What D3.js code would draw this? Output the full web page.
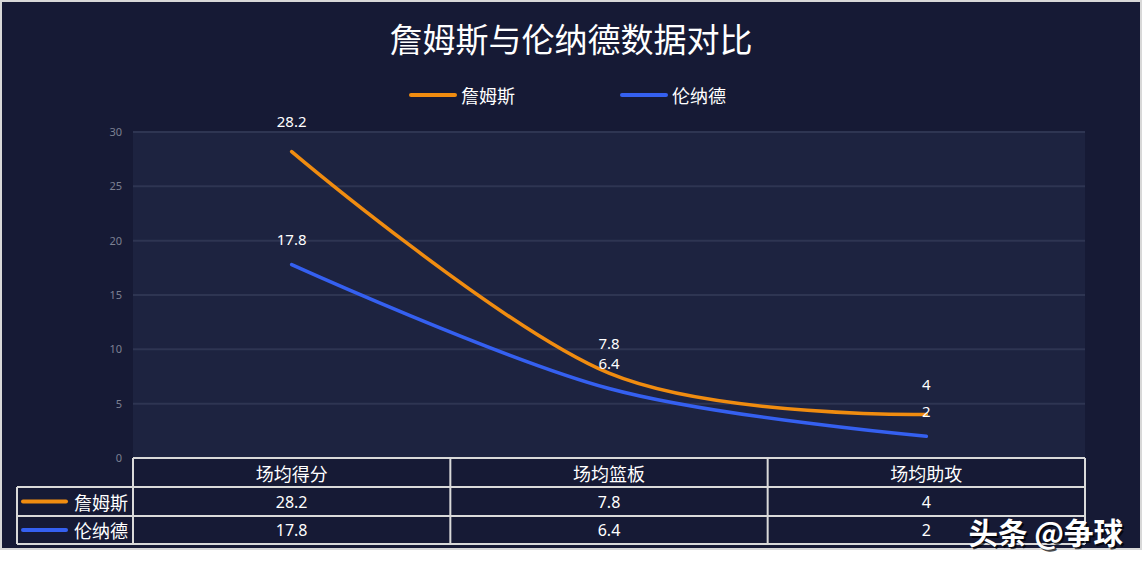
<!DOCTYPE html>
<html><head><meta charset="utf-8">
<script src="https://cdn.jsdelivr.net/npm/d3@7"></script>
<style>
html,body{margin:0;padding:0;background:#ffffff;}
svg{display:block;}
text{font-family:"Noto Sans CJK SC","Noto Sans",sans-serif;}
</style></head>
<body>
<svg id="chart" width="1142" height="563"></svg>
<script>
const title = "詹姆斯与伦纳德数据对比";
const categories = ["场均得分", "场均篮板", "场均助攻"];
const seriesNames = ["詹姆斯", "伦纳德"];
const jamesValues = [28.2, 7.8, 4];
const leonardValues = [17.8, 6.4, 2];
const seriesColors = ["#f08c10", "#3560f0"];
const yTicks = [0, 5, 10, 15, 20, 25, 30];
const watermark = "头条 @争球";

const series = [
  {name: seriesNames[0], values: jamesValues, color: seriesColors[0], labelOff: 30.5},
  {name: seriesNames[1], values: leonardValues, color: seriesColors[1], labelOff: 25.5}
];

const svg = d3.select("#chart");
// frame
svg.append("rect").attr("x",0).attr("y",0).attr("width",1142).attr("height",550).attr("fill","#d8d8d8");
svg.append("rect").attr("x",2).attr("y",2).attr("width",1138).attr("height",546).attr("fill","#161a35");

const plotL = 133, plotR = 1085, plotT = 132, plotB = 458;
const x = d3.scaleBand().domain(categories).range([plotL, plotR]);
const y = d3.scaleLinear().domain([0, 30]).range([plotB, plotT]);

svg.append("rect").attr("x",plotL).attr("y",plotT).attr("width",plotR-plotL).attr("height",plotB-plotT).attr("fill","#1d2340");

// grid
svg.append("g").selectAll("line").data(yTicks.filter(d=>d>0)).join("line")
  .attr("x1",plotL).attr("x2",plotR).attr("y1",d=>y(d)).attr("y2",d=>y(d))
  .attr("stroke","#2e3552").attr("stroke-width",2);

// y axis
const yAxis = d3.axisLeft(y).tickValues(yTicks).tickSize(0).tickPadding(11);
const ga = svg.append("g").attr("transform",`translate(${plotL},0)`).call(yAxis);
ga.select(".domain").remove();
ga.selectAll("text").attr("fill","#7c8092").style("font-size","11px").style("font-family","'Noto Sans',sans-serif");

// title
svg.append("text").attr("x",571).attr("y",38).attr("text-anchor","middle").attr("dominant-baseline","central")
  .attr("fill","#ffffff").style("font-size","33px").text(title);

// legend
const legX = [411, 622];
series.forEach((s,i)=>{
  svg.append("line").attr("x1",legX[i]).attr("x2",legX[i]+44).attr("y1",95).attr("y2",95)
    .attr("stroke",s.color).attr("stroke-width",4).attr("stroke-linecap","round");
  svg.append("text").attr("x",legX[i]+50).attr("y",95).attr("dominant-baseline","central")
    .attr("fill","#ffffff").style("font-size","18px").text(s.name);
});

// lines
const cx = c => x(c) + x.bandwidth()/2;
const line = d3.line().x(d=>cx(d.c)).y(d=>y(d.v)).curve(d3.curveCardinal.tension(0));
series.forEach(s=>{
  const pts = categories.map((c,i)=>({c, v:s.values[i]}));
  svg.append("path").attr("d",line(pts)).attr("fill","none").attr("stroke",s.color)
    .attr("stroke-width",3.5).attr("stroke-linecap","round");
});
// labels
series.forEach(s=>{
  svg.append("g").selectAll("text").data(categories).join("text")
    .attr("x",c=>cx(c)).attr("y",(c,i)=>y(s.values[i])-s.labelOff)
    .attr("text-anchor","middle").attr("dominant-baseline","central")
    .attr("fill","#ffffff").style("font-size","15px").style("font-family","'Noto Sans',sans-serif")
    .text((c,i)=>s.values[i]);
});

// table
const rowY = [458, 487, 516, 544];
const tableL = 17;
const tg = svg.append("g");
tg.append("rect").attr("x",plotL).attr("y",rowY[0]).attr("width",plotR-plotL).attr("height",rowY[1]-rowY[0]).attr("fill","#161a35");
const stroke = "#d9d9d9";
tg.append("line").attr("x1",plotL).attr("x2",plotR).attr("y1",rowY[0]).attr("y2",rowY[0]).attr("stroke",stroke).attr("stroke-width",2);
[1,2,3].forEach(k=>{
  tg.append("line").attr("x1",tableL).attr("x2",plotR).attr("y1",rowY[k]).attr("y2",rowY[k]).attr("stroke",stroke).attr("stroke-width",2);
});
tg.append("line").attr("x1",tableL).attr("x2",tableL).attr("y1",rowY[1]).attr("y2",rowY[3]).attr("stroke",stroke).attr("stroke-width",2);
const vx = [plotL, ...categories.map(c=>x(c)+x.bandwidth())];
vx.forEach(v=>{
  tg.append("line").attr("x1",v).attr("x2",v).attr("y1",rowY[0]).attr("y2",rowY[3]).attr("stroke",stroke).attr("stroke-width",2);
});
tg.selectAll("text.h").data(categories).join("text").attr("class","h")
  .attr("x",c=>cx(c)).attr("y",(rowY[0]+rowY[1])/2).attr("text-anchor","middle").attr("dominant-baseline","central")
  .attr("fill","#ffffff").style("font-size","18px").text(c=>c);
series.forEach((s,i)=>{
  const my = (rowY[i+1]+rowY[i+2])/2;
  tg.append("line").attr("x1",23).attr("x2",66).attr("y1",my).attr("y2",my)
    .attr("stroke",s.color).attr("stroke-width",4).attr("stroke-linecap","round");
  tg.append("text").attr("x",74).attr("y",my).attr("dominant-baseline","central")
    .attr("fill","#ffffff").style("font-size","18px").text(s.name);
  tg.selectAll("text.v"+i).data(categories).join("text").attr("class","v"+i)
    .attr("x",c=>cx(c)).attr("y",my).attr("text-anchor","middle").attr("dominant-baseline","central")
    .attr("fill","#ffffff").style("font-size","16px").style("font-family","'Noto Sans',sans-serif")
    .text((c,j)=>s.values[j]);
});

// watermark
svg.append("text").attr("x",1123).attr("y",531).attr("text-anchor","end").attr("dominant-baseline","central")
  .attr("fill","#000000").attr("opacity",0.7).style("font-size","29.5px").style("font-weight","bold")
  .attr("transform","translate(2,2)").text(watermark);
svg.append("text").attr("x",1123).attr("y",531).attr("text-anchor","end").attr("dominant-baseline","central")
  .attr("fill","#ffffff").style("font-size","29.5px").style("font-weight","bold").text(watermark);
</script>
</body></html>
